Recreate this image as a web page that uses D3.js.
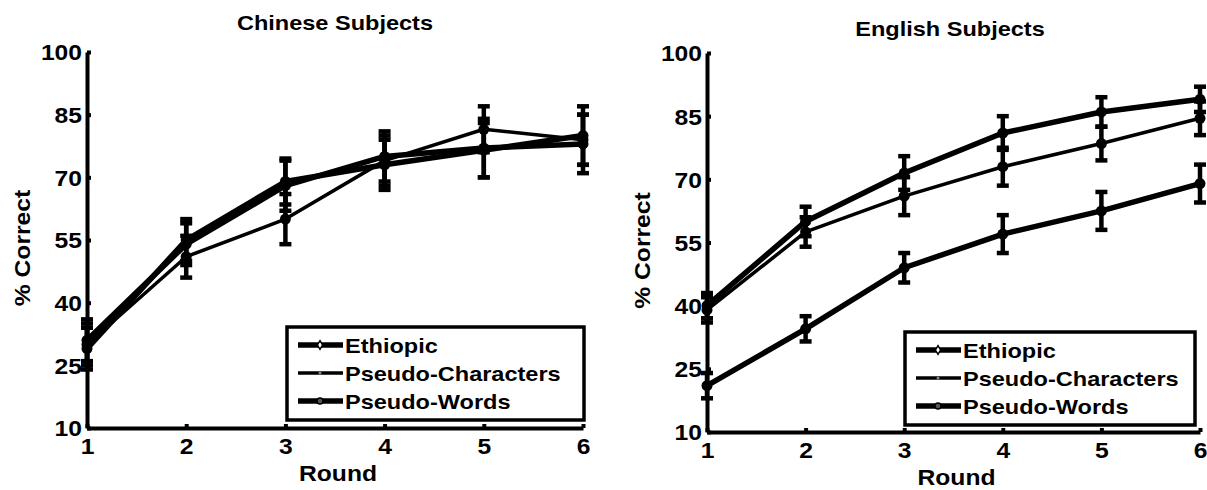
<!DOCTYPE html>
<html>
<head>
<meta charset="utf-8">
<script src="https://cdn.jsdelivr.net/npm/d3@7"></script>
<style>
  body { margin: 0; background: #fff; }
  text { font-family: "Liberation Sans", Arial, sans-serif; font-weight: bold; fill: #000; }
</style>
</head>
<body>
<svg id="chart" width="1207" height="490"></svg>
<script>
// rounds on the x axis
var rounds = [1, 2, 3, 4, 5, 6];
var yTicks = [10, 25, 40, 55, 70, 85, 100];
var seriesNames = ["Ethiopic", "Pseudo-Characters", "Pseudo-Words"];

// Chinese subjects, % correct and error bar half-widths
var chEthiopic = [31, 54, 68, 75, 77, 78];
var chEthiopicErr = [5, 5, 6, 6, 7, 7];
var chPseudoChar = [30, 51, 60, 74, 81.5, 79];
var chPseudoCharErr = [5, 5, 6, 6, 5.5, 6];
var chPseudoWords = [29, 55, 69, 73, 76.5, 80];
var chPseudoWordsErr = [5, 5, 5.5, 6, 6.5, 7];

// English subjects
var enEthiopic = [40, 60, 71.5, 81, 86, 89];
var enEthiopicErr = [3, 3.5, 4, 4, 3.5, 3];
var enPseudoChar = [39, 57.5, 66, 73, 78.5, 84.5];
var enPseudoCharErr = [3, 3.5, 4.5, 4.5, 4, 4];
var enPseudoWords = [21, 34.5, 49, 57, 62.5, 69];
var enPseudoWordsErr = [3, 3, 3.5, 4.5, 4.5, 4.5];

var svg = d3.select("#chart");
svg.append("rect").attr("width", 1207).attr("height", 490).attr("fill", "#fff");

var panels = [
    {title: "Chinese Subjects", x0: 87, x1: 583, y0: 52, y1: 428, titleX: 335, titleY: 30, labelX: 22,
     legend: {x: 287, y: 327, w: 297, h: 93},
     series: [[chEthiopic, chEthiopicErr], [chPseudoChar, chPseudoCharErr], [chPseudoWords, chPseudoWordsErr]]},
    {title: "English Subjects", x0: 707, x1: 1200, y0: 53, y1: 432, titleX: 950, titleY: 36, labelX: 642,
     legend: {x: 905, y: 332, w: 290, h: 93},
     series: [[enEthiopic, enEthiopicErr], [enPseudoChar, enPseudoCharErr], [enPseudoWords, enPseudoWordsErr]]}
];

var lineWidths = [5.5, 3.5, 5.5];

function drawMarker(g, i, cx, cy) {
    if (i === 0) {
        g.append("path")
            .attr("d", d3.symbol().type(d3.symbolDiamond).size(22)())
            .attr("transform", "translate(" + cx + "," + cy + ")")
            .attr("fill", "#fff").attr("stroke", "#000").attr("stroke-width", 1.5);
    } else if (i === 1) {
        g.append("circle").attr("cx", cx).attr("cy", cy).attr("r", 1.5).attr("fill", "#888");
    } else {
        g.append("circle").attr("cx", cx).attr("cy", cy).attr("r", 3)
            .attr("fill", "#555").attr("stroke", "#000").attr("stroke-width", 1.5);
    }
}

panels.forEach(function(p) {
    var x = d3.scaleLinear().domain([1, 6]).range([p.x0, p.x1]);
    var y = d3.scaleLinear().domain([10, 100]).range([p.y1, p.y0]);
    var g = svg.append("g");

    // axes, MATLAB style with ticks pointing inward
    var yAxis = d3.axisLeft(y).tickValues(yTicks).tickFormat(d3.format("d"))
        .tickSizeInner(-4).tickSizeOuter(0).tickPadding(5);
    var xAxis = d3.axisBottom(x).tickValues(rounds).tickFormat(d3.format("d"))
        .tickSizeInner(-4).tickSizeOuter(0).tickPadding(8);

    var ya = g.append("g").attr("transform", "translate(" + p.x0 + ",0)").call(yAxis);
    var xa = g.append("g").attr("transform", "translate(0," + p.y1 + ")").call(xAxis);
    [ya, xa].forEach(function(a) {
        a.select(".domain").attr("stroke", "#000").attr("stroke-width", 4);
        a.selectAll(".tick line").attr("stroke", "#000").attr("stroke-width", 4);
        a.selectAll("text").attr("font-size", 22).attr("font-family", null);
    });
    ya.selectAll("text").attr("dy", "0.36em");
    xa.selectAll("text").attr("dy", "0.8em");

    g.append("text").attr("x", p.titleX).attr("y", p.titleY).attr("text-anchor", "middle")
        .attr("font-size", 21).text(p.title);
    g.append("text").attr("x", (p.x0 + p.x1) / 2 + 3).attr("y", p.y1 + 53).attr("text-anchor", "middle")
        .attr("font-size", 22).text("Round");
    g.append("text").attr("transform", "translate(" + p.labelX + "," + ((p.y0 + p.y1) / 2 + 8) + ") rotate(-90)")
        .attr("text-anchor", "middle").attr("dy", "0.35em").attr("font-size", 22).text("% Correct");

    var line = d3.line().x(function(d, i) { return x(rounds[i]); }).y(function(d) { return y(d); });

    p.series.forEach(function(s, si) {
        var vals = s[0], errs = s[1];
        g.append("path").datum(vals).attr("d", line)
            .attr("fill", "none").attr("stroke", "#000")
            .attr("stroke-width", lineWidths[si]).attr("stroke-linejoin", "round");
        vals.forEach(function(v, i) {
            var cx = x(rounds[i]);
            var top = y(v + errs[i]), bot = y(v - errs[i]);
            g.append("line").attr("x1", cx).attr("x2", cx).attr("y1", top).attr("y2", bot)
                .attr("stroke", "#000").attr("stroke-width", 4.5);
            [top, bot].forEach(function(cy) {
                g.append("line").attr("x1", cx - 6).attr("x2", cx + 6).attr("y1", cy).attr("y2", cy)
                    .attr("stroke", "#000").attr("stroke-width", 4.5);
            });
            g.append("circle").attr("cx", cx).attr("cy", y(v)).attr("r", 5.5).attr("fill", "#000");
        });
    });

    // legend
    var L = p.legend;
    var lg = g.append("g");
    lg.append("rect").attr("x", L.x).attr("y", L.y).attr("width", L.w).attr("height", L.h)
        .attr("fill", "#fff").attr("stroke", "#000").attr("stroke-width", 3.5);
    seriesNames.forEach(function(name, i) {
        var ly = L.y + 18 + i * 28;
        lg.append("line").attr("x1", L.x + 11).attr("x2", L.x + 56).attr("y1", ly).attr("y2", ly)
            .attr("stroke", "#000").attr("stroke-width", lineWidths[i]);
        drawMarker(lg, i, L.x + 33, ly);
        lg.append("text").attr("x", L.x + 58).attr("y", ly).attr("dy", "0.36em")
            .attr("font-size", 21).text(name);
    });
});

// the scanned figure is wider than the font: stretch the text horizontally
svg.selectAll("text").each(function() {
    var len = this.getComputedTextLength();
    if (len > 0) {
        d3.select(this).attr("textLength", len * 1.12).attr("lengthAdjust", "spacingAndGlyphs");
    }
});
</script>
</body>
</html>
